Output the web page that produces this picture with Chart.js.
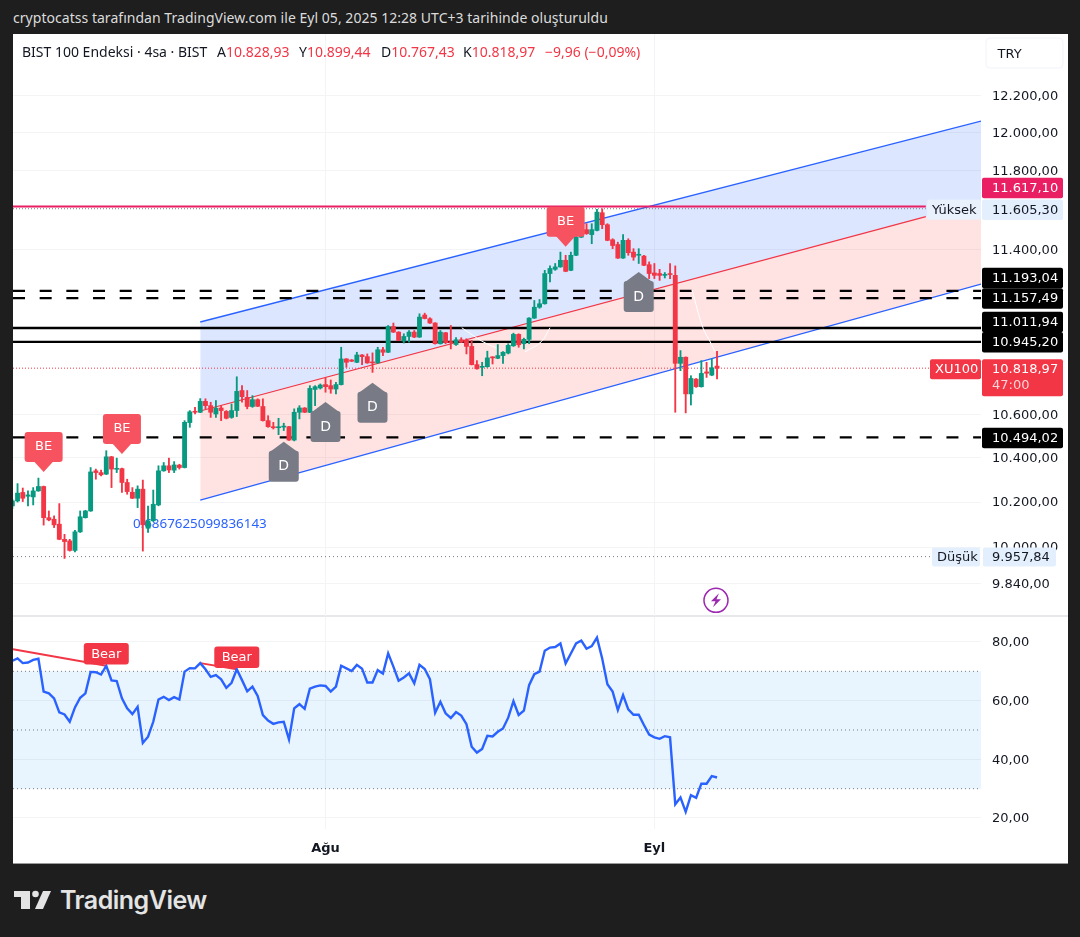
<!DOCTYPE html>
<html lang="tr"><head><meta charset="utf-8">
<script src="https://cdn.jsdelivr.net/npm/chart.js@4"></script>
<style>
html,body{margin:0;padding:0;width:1080px;height:937px;background:#1e1e1e;overflow:hidden}
.abs{position:absolute;white-space:pre}
#panel{position:absolute;left:13px;top:34px;width:1055px;height:829px;background:#fff;border-bottom:1px solid #9a9a9a}
#sep{position:absolute;left:13px;top:615px;width:1055px;height:2px;background:#e6e8ec}
canvas{position:absolute;display:block}
#title{left:13px;top:9px;font:14px/18px "Noto Sans";color:#dcdcdc;letter-spacing:.035px}
.h{top:43px;font:14px/18px "Noto Sans";color:#131722}
.r{color:#f23645}
#brand{left:60px;top:884px;font:600 25px/32px Inter;color:#e4e4e4;letter-spacing:-.5px}
</style></head><body>
<div id="panel"></div><div id="sep"></div>
<div id="title" class="abs">cryptocatss tarafından TradingView.com ile Eyl 05, 2025 12:28 UTC+3 tarihinde oluşturuldu</div>
<canvas id="price" width="1055" height="582" style="left:13px;top:34px"></canvas>
<canvas id="rsi" width="1055" height="246" style="left:13px;top:617px"></canvas>
<div class="abs h" style="left:22px">BIST 100 Endeksi · 4sa · BIST</div>
<div class="abs h" style="left:217px">A<span class="r">10.828,93</span></div>
<div class="abs h" style="left:299px">Y<span class="r">10.899,44</span></div>
<div class="abs h" style="left:381px">D<span class="r">10.767,43</span></div>
<div class="abs h" style="left:463px">K<span class="r">10.818,97</span></div>
<div class="abs h r" style="left:545px">−9,96 (−0,09%)</div>
<svg class="abs" style="left:13px;top:889px" width="40" height="22" viewBox="0 0 40 22"><path fill="#e4e4e4" d="M1 2H17V20H8V8H1Z"/><circle fill="#e4e4e4" cx="22.500" cy="5" r="3.300"/><path fill="#e4e4e4" d="M30 2H38L30 20H22Z"/></svg>
<div id="brand" class="abs">TradingView</div>
<script>
const opens=[10183,10205,10243,10226,10223,10250,10270,10130,10123,10101,10034,10027,9985,10067,10130,10160,10341,10333,10326,10405,10348,10351,10288,10244,10217,10258,10083,10116,10187,10341,10364,10344,10367,10356,10563,10615,10611,10662,10642,10603,10631,10615,10587,10619,10713,10681,10638,10670,10638,10572,10542,10539,10542,10544,10482,10611,10631,10611,10718,10725,10741,10736,10720,10741,10863,10858,10847,10882,10874,10847,10844,10907,10895,11019,10992,10949,10971,10992,10968,11075,11057,11036,10936,10989,10946,10932,10955,10952,10923,10836,10823,10826,10871,10866,10879,10891,10926,10981,10936,10957,11060,11113,11130,11279,11300,11312,11345,11295,11370,11461,11499,11474,11495,11585,11524,11448,11424,11356,11445,11386,11370,11366,11323,11282,11279,11270,11279,11270,10842,10871,10697,10767,10731,10801,10786,10828.93];
const highs=[10212,10283,10263,10250,10265,10308,10272,10160,10138,10193,10056,10034,10074,10160,10163,10356,10349,10344,10433,10407,10399,10353,10303,10265,10273,10299,10182,10254,10364,10379,10399,10383,10371,10572,10619,10634,10675,10674,10658,10666,10642,10619,10650,10778,10736,10713,10689,10674,10674,10595,10564,10583,10560,10546,10627,10642,10633,10736,10736,10744,10772,10763,10752,10919,10865,10860,10895,10884,10887,10892,10919,10919,11024,11036,10994,10984,11000,11000,11081,11084,11062,11038,11000,10991,11024,10965,10965,10960,10952,10855,10847,10900,10874,10932,10898,10936,10987,10984,10963,11062,11146,11151,11295,11317,11329,11386,11370,11386,11512,11512,11529,11529,11602,11605,11529,11453,11436,11474,11453,11403,11403,11370,11337,11329,11300,11284,11329,11317,10903,10873,10783,10770,10855,10847,10863,10899.44];
const lows=[10170,10200,10202,10183,10187,10248,10097,10116,10086,10032,9950,9982,9979,10064,10128,10158,10303,10318,10324,10265,10333,10243,10235,10215,10175,9982,10064,10114,10183,10339,10333,10333,10349,10354,10541,10603,10609,10627,10587,10587,10572,10580,10583,10591,10658,10627,10634,10637,10570,10541,10533,10507,10526,10480,10478,10580,10609,10609,10642,10720,10705,10700,10697,10739,10823,10850,10845,10836,10842,10799,10842,10879,10893,10990,10950,10939,10944,10965,10966,11056,11034,10934,10934,10936,10911,10928,10941,10887,10834,10814,10783,10823,10839,10864,10842,10887,10923,10919,10911,10936,11058,11108,11128,11237,11295,11310,11288,11293,11368,11459,11475,11428,11493,11504,11443,11403,11354,11354,11370,11345,11329,11318,11254,11254,11245,11257,11254,10611,10807,10608,10645,10728,10729,10775,10783,10767.43];
const closes=[10205,10240,10217,10232,10250,10270,10130,10120,10098,10034,10024,9985,10067,10134,10160,10336,10333,10323,10405,10349,10352,10288,10247,10217,10258,10098,10116,10190,10341,10364,10345,10368,10356,10564,10613,10611,10662,10642,10611,10630,10619,10583,10619,10709,10684,10638,10670,10639,10572,10544,10539,10543,10545,10482,10611,10631,10611,10723,10731,10739,10731,10720,10741,10863,10847,10852,10882,10874,10844,10844,10907,10895,11019,10992,10952,10971,10992,10968,11065,11058,11036,10936,10992,10941,10941,10955,10943,10923,10836,10816,10826,10868,10868,10879,10895,10928,10981,10931,10957,11060,11113,11130,11279,11304,11312,11345,11290,11370,11461,11495,11479,11499,11588,11524,11445,11419,11356,11445,11383,11361,11373,11320,11279,11270,11270,11273,11274,10842,10871,10697,10770,10731,10794,10795,10821,10818.97];
const rsiValues=[73.6,74.4,72.8,73.0,73.9,74.3,63.1,62.5,60.8,56.0,55.3,52.8,57.7,61.0,62.5,69.8,69.7,68.9,71.9,66.9,66.7,60.8,57.4,55.4,57.9,45.6,47.7,52.8,60.4,61.3,60.2,61.2,60.4,69.9,71.1,71.0,72.8,70.7,68.1,68.7,67.3,64.4,66.1,70.7,67.0,63.2,64.8,61.6,55.1,53.2,52.1,52.6,52.8,46.8,57.4,58.8,57.2,64.1,64.8,65.2,65.0,63.1,64.8,71.9,71.0,70.1,72.2,70.9,66.2,66.2,70.4,69.2,76.1,71.6,66.8,67.9,69.3,65.9,72.2,70.8,67.3,55.9,59.6,55.7,54.1,56.1,54.9,52.0,44.3,42.3,43.5,48.0,47.8,49.4,50.5,54.2,59.8,55.1,56.6,65.3,69.0,69.9,77.0,78.1,78.3,79.5,72.7,76.1,79.5,80.5,77.7,78.6,81.5,74.4,65.6,63.1,56.8,61.9,57.0,55.2,55.2,51.7,48.4,47.5,47.0,47.9,47.5,24.7,27.0,22.1,27.8,26.9,31.7,31.7,34.3,33.8];

const priceTicks=[12200,12000,11800,11400,10600,10400,10200,10000,9840];
const rsiTicks=[80,60,40,20];
const timeTickIndex=[60,123];
const timeTickLabels=['Ağu','Eyl'];
const channelX=[36,185.57];
const channelTop=[11041,12062];
const channelMid=[10617,11640];
const channelMidVisible=[10617,11565];
const channelBottom=[10209,11227];
const dashedLevels=[11193.04,11157.49,10494.02];
const solidLevels=[11011.94,10945.20];
const periodHigh=11605.30, periodLow=9957.84, pinkLevel=11617.10, lastPrice=10818.97;
const rsiLevels=[70,50,30];
const bearLines=[[[0.13,77.5],[18,71.9]],[[36,72.8],[43,70.7]]];
const bearMarks=[18,43];
const beMarks=[[6,10336],[21,10418],[106,11413]];
const dMarks=[[52,10474],[60,10659],[69,10750],[120,11287]];
const whiteCurves=[[[86.1,11013],[90.2,10945],[93.5,10907]],[[103,11013],[101.3,10945],[98.2,10897]],[[130.2,11198],[132.3,11013],[133.7,10945],[134.6,10897]]];

const X_MIN=0.13,X_MAX=185.57,LEVEL_END=175;
const GREEN='#089981',RED='#f23645',GRID='#f3f4f6';
const FONT='"DejaVu Sans"';
Chart.defaults.font.family=FONT;
Chart.defaults.font.size=13;
Chart.defaults.color='#131722';
const fmt=v=>{const [a,b]=v.toFixed(2).split('.');return a.replace(/\B(?=(\d{3})+$)/g,'.')+','+b;};
const idx=opens.map((_,i)=>i);
const colors=idx.map(i=>closes[i]>=opens[i]?GREEN:RED);
const seg=(xs,ys)=>xs.map((x,i)=>({x,y:ys[i]}));
const level=(v,end)=>[{x:X_MIN,y:v},{x:end,y:v}];
const lineDs=(data,o)=>Object.assign({type:'line',data,pointRadius:0,borderWidth:1,tension:0,fill:false,order:10},o);
const rr=(c,x,y,w,h,r,bg)=>{c.fillStyle=bg;c.beginPath();c.roundRect(x,y,w,h,r);c.fill();};
const txt=(c,s,x,y,col,font,al)=>{c.fillStyle=col;c.font=font||('13px '+FONT);c.textAlign=al||'left';c.textBaseline='middle';c.fillText(s,x,y);};
const xAxis=(showLabels)=>({type:'linear',min:X_MIN,max:X_MAX,offset:false,
  grid:{color:GRID,drawTicks:false,offset:false},border:{display:false},
  afterBuildTicks:s=>{s.ticks=timeTickIndex.map(value=>({value}));},
  ticks:{display:showLabels,autoSkip:false,maxRotation:0,padding:12,font:{weight:'bold',size:13},color:'#131722',
    callback:v=>timeTickLabels[timeTickIndex.indexOf(v)]},
  afterFit:s=>{s.height=showLabels?34:0;s.paddingLeft=0;s.paddingRight=0;}});
const yAxis=(extra,ticks)=>Object.assign({position:'right',
  grid:{color:GRID,drawTicks:false},border:{display:false},
  afterBuildTicks:s=>{s.ticks=ticks.map(value=>({value}));},
  ticks:{autoSkip:false,padding:11,color:'#131722',font:{size:13,lineHeight:0.154},callback:v=>['',fmt(v)]},
  afterFit:s=>{s.width=87;s.paddingTop=0;s.paddingBottom=0;}},extra);

const annot={id:'annot',
 beforeDatasetsDraw(ch){const c=ch.ctx,{x,y}=ch.scales;
  txt(c,'0.6867625099836143',x.getPixelForValue(23.1),y.getPixelForValue(10102),'#2962ff','13.4px "Noto Sans"');},
 afterDatasetsDraw(ch){const c=ch.ctx,{x,y}=ch.scales;
  for(const [i,v] of beMarks){const px=x.getPixelForValue(i),t=y.getPixelForValue(v);
   rr(c,px-19,t-40,38,30,3,'#f7525f');
   c.beginPath();c.moveTo(px-10,t-11);c.lineTo(px,t);c.lineTo(px+10,t-11);c.fill();
   txt(c,'BE',px,t-25,'#fff','13px '+FONT,'center');}
  for(const [i,v] of dMarks){const px=x.getPixelForValue(i),t=y.getPixelForValue(v);
   rr(c,px-15,t+9,30,31,3,'#787b86');
   c.beginPath();c.moveTo(px-15,t+11);c.lineTo(px,t);c.lineTo(px+15,t+11);c.fill();
   txt(c,'D',px,t+25,'#fff','14px '+FONT,'center');}
  const bx=x.getPixelForValue(134.8),by=y.getPixelForValue(9768);
  c.strokeStyle='#9c27b0';c.lineWidth=1.5;c.beginPath();c.arc(bx,by,12,0,Math.PI*2);c.stroke();
  c.fillStyle='#9c27b0';c.beginPath();c.moveTo(bx+3,by-7);c.lineTo(bx-5,by+1);c.lineTo(bx-.5,by+1);c.lineTo(bx-3,by+7);c.lineTo(bx+5,by-1);c.lineTo(bx+.5,by-1);c.closePath();c.fill();
 },
 afterDraw(ch){const c=ch.ctx,{y}=ch.scales,R=ch.chartArea.right;
  c.strokeStyle='#f0f3fa';c.lineWidth=1;c.beginPath();c.roundRect(R+5,4,77,30,4);c.stroke();
  txt(c,'TRY',R+16.500,20.5,'#131722');
  const tag=(v,dy,bg,col)=>{const m=y.getPixelForValue(v)+dy;rr(c,R+1,m-10.2,81,20.4,2,bg);txt(c,fmt(v),R+11,m+.5,col);};
  tag(pinkLevel,-18.5,'#e91e63','#fff');
  const hy=y.getPixelForValue(periodHigh)+1;
  rr(c,R-54,hy-10,54,20,2,'#e9f1fc');txt(c,'Yüksek',R-49,hy+.5,'#131722');
  tag(periodHigh,1,'#e3effd','#131722');
  for(const [v,dy] of [[11193.04,-13],[11157.49,.4],[11011.94,-6],[10945.20,.5],[10494.02,.6]]) tag(v,dy,'#000','#fff');
  const py=y.getPixelForValue(lastPrice)+1;
  rr(c,R-51,py-10,51,20,2,RED);txt(c,'XU100',R-46,py+.5,'#fff');
  rr(c,R+1,py-10,81,37,2,RED);txt(c,fmt(lastPrice),R+11,py+.5,'#fff');txt(c,'47:00',R+11,py+16.5,'rgba(255,255,255,.78)');
  const ly=y.getPixelForValue(periodLow)+.4;
  rr(c,R-49,ly-9.5,48,19,2,'#e3effd');txt(c,'Düşük',R-44,ly+.5,'#131722');
  rr(c,R+2,ly-9.5,73,19,2,'#e3effd');txt(c,fmt(periodLow),R+11,ly+.5,'#131722');
 }};

new Chart(document.getElementById('price'),{type:'bar',plugins:[annot],
 data:{datasets:[
  lineDs(seg(channelX,channelTop),{borderColor:'#2962ff',borderWidth:1.3,backgroundColor:'rgba(41,98,255,.16)',fill:'+1',order:30}),
  lineDs(seg(channelX,channelMid),{borderWidth:0,backgroundColor:'rgba(255,82,82,.17)',fill:'+1',order:31}),
  lineDs(seg(channelX,channelBottom),{borderColor:'#2962ff',borderWidth:1.3,order:29}),
  lineDs(seg(channelX.map(v=>Math.min(v,LEVEL_END)),channelMidVisible),{borderColor:'#f23645',borderWidth:1.2,order:28}),
  lineDs(level(periodHigh,LEVEL_END),{borderColor:'#787b86',borderDash:[1,2],order:20}),
  lineDs(level(periodLow,LEVEL_END+1),{borderColor:'#787b86',borderDash:[1,3],order:20}),
  lineDs(level(lastPrice,X_MAX),{borderColor:RED,borderDash:[1,2],order:20}),
  lineDs(level(pinkLevel,LEVEL_END),{borderColor:'#e91e63',borderWidth:2,order:19}),
  ...dashedLevels.map(v=>lineDs(level(v,X_MAX),{borderColor:'#000',borderWidth:2.3,borderDash:[12,14.67],order:18})),
  ...solidLevels.map(v=>lineDs(level(v,X_MAX),{borderColor:'#000',borderWidth:2.3,order:18})),
  ...whiteCurves.map(p=>lineDs(p.map(([x,y])=>({x,y})),{borderColor:'#ffffff',borderWidth:1,tension:.4,order:5})),
  {label:'wick',data:idx.map(i=>({x:i,y:[lows[i],highs[i]]})),backgroundColor:colors,barThickness:1.2,grouped:false,order:2,borderWidth:0},
  {label:'body',data:idx.map(i=>({x:i,y:[opens[i],closes[i]]})),backgroundColor:colors,barThickness:4.2,grouped:false,order:1,minBarLength:1,borderWidth:0}
 ]},
 options:{responsive:false,animation:false,layout:{padding:0},plugins:{legend:{display:false},tooltip:{enabled:false}},
  scales:{x:xAxis(false),y:yAxis({type:'logarithmic',min:9701,max:12533},priceTicks)}}});

const annotR={id:'annotR',afterDatasetsDraw(ch){const c=ch.ctx,{x,y}=ch.scales;
 for(const i of bearMarks){const px=x.getPixelForValue(i),m=y.getPixelForValue(rsiValues[i])-12;
  rr(c,px-22.500,m-10.7,45,21.4,3,RED);txt(c,'Bear',px,m+.5,'#fff','13px '+FONT,'center');}}};
new Chart(document.getElementById('rsi'),{type:'line',plugins:[annotR],
 data:{datasets:[
  lineDs(level(rsiLevels[0],X_MAX),{borderColor:'#787b86',borderDash:[1,3],backgroundColor:'rgba(33,150,243,.1)',fill:'+2',order:20}),
  lineDs(level(rsiLevels[1],X_MAX),{borderColor:'#787b86',borderDash:[1,3],order:20}),
  lineDs(level(rsiLevels[2],X_MAX),{borderColor:'#787b86',borderDash:[1,3],order:20}),
  ...bearLines.map(p=>lineDs(p.map(([x,y])=>({x,y})),{borderColor:RED,borderWidth:2,order:5})),
  lineDs(idx.map(i=>({x:i,y:rsiValues[i]})),{borderColor:'#2962ff',borderWidth:2.4,order:1})
 ]},
 options:{responsive:false,animation:false,layout:{padding:0},plugins:{legend:{display:false},tooltip:{enabled:false}},
  scales:{x:xAxis(true),y:yAxis({type:'linear',min:16.25,max:88.52},rsiTicks)}}});
</script>
</body></html>
